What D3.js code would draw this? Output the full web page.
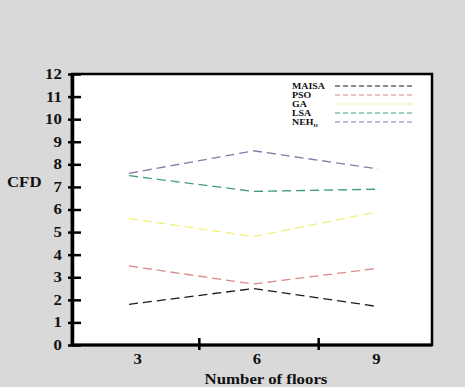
<!DOCTYPE html>
<html lang="en">
<head>
<meta charset="utf-8" />
<script src="https://d3js.org/d3.v7.min.js"></script>
<style>
  body { margin: 0; background: #d9d9d9; }
  text { font-family: "Liberation Serif", "DejaVu Serif", serif; font-weight: bold; fill: #111; }
</style>
</head>
<body>
<script>
// chart data
var floors = [3, 6, 9];
var seriesNames = ["MAISA", "PSO", "GA", "LSA", "NEH"];
var maisa = [1.8, 2.5, 1.7];
var pso = [3.5, 2.7, 3.4];
var ga = [5.6, 4.8, 5.9];
var lsa = [7.5, 6.8, 6.9];
var neh = [7.6, 8.6, 7.8];
var yTicks = [0, 1, 2, 3, 4, 5, 6, 7, 8, 9, 10, 11, 12];

var colors = ["#1a1a1a", "#d98a8a", "#f2ef7a", "#3f9c80", "#8c78a6"];
var allSeries = [maisa, pso, ga, lsa, neh];

var w = 465, h = 387;
// plot box ("top" is taken on window, so plotTop)
var plotLeft = 72, plotRight = 432, plotTop = 74, plotBottom = 345;
var stretch = "scale(1.2,1)"; // the source text looks horizontally widened

var svg = d3.select("body").append("svg")
    .attr("width", w)
    .attr("height", h);

// plot area
svg.append("rect")
    .attr("x", plotLeft).attr("y", plotTop)
    .attr("width", plotRight - plotLeft).attr("height", plotBottom - plotTop)
    .attr("fill", "#fff")
    .attr("stroke", "#000")
    .attr("stroke-width", 2.5);

var x = d3.scalePoint().domain(floors).range([129, 378]);
var xBand = d3.scaleBand().domain(floors).range([80, 438]);
var y = d3.scaleLinear().domain([0, 12]).range([plotBottom, plotTop]);

// lines
var line = d3.line()
    .x(function(d, i) { return x(floors[i]); })
    .y(function(d) { return y(d); });

svg.selectAll("path.series")
    .data(allSeries)
    .enter()
    .append("path")
    .attr("class", "series")
    .attr("d", line)
    .attr("fill", "none")
    .attr("stroke", function(d, i) { return colors[i]; })
    .attr("stroke-width", 1.3)
    .attr("stroke-dasharray", "9,5");

// y axis
var yAxis = svg.append("g")
    .attr("transform", "translate(" + plotLeft + ",0)")
    .call(d3.axisLeft(y).tickValues(yTicks).tickSize(5).tickSizeOuter(0).tickPadding(8));
yAxis.select(".domain").attr("stroke", "#000").attr("stroke-width", 3.5);
yAxis.selectAll(".tick line").attr("stroke", "#000").attr("stroke-width", 2.5)
    .attr("x1", 9).attr("x2", -4);
yAxis.selectAll(".tick text").style("font-size", "14px").attr("x", -8.5)
    .attr("transform", stretch)
    .style("font-family", "Liberation Serif").style("font-weight", "bold");

// x axis, ticks sit between the categories
var xAxis = svg.append("g")
    .attr("transform", "translate(0," + plotBottom + ")");
xAxis.append("line")
    .attr("x1", plotLeft).attr("x2", plotRight)
    .attr("stroke", "#000").attr("stroke-width", 3);
xAxis.selectAll("line.tk")
    .data(floors.slice(1))
    .enter()
    .append("line")
    .attr("class", "tk")
    .attr("x1", function(d) { return xBand(d); })
    .attr("x2", function(d) { return xBand(d); })
    .attr("y1", -7).attr("y2", 5)
    .attr("stroke", "#000").attr("stroke-width", 2.5);
xAxis.selectAll("text")
    .data(floors)
    .enter()
    .append("text")
    .attr("transform", function(d) {
        return "translate(" + (xBand(d) + xBand.bandwidth() / 2 - 2) + ",19) " + stretch;
    })
    .style("text-anchor", "middle")
    .style("font-size", "14px")
    .text(function(d) { return d; });

// axis titles
svg.append("text")
    .attr("transform", "translate(266,384) " + stretch)
    .style("text-anchor", "middle")
    .style("font-size", "14px")
    .text("Number of floors");
svg.append("text")
    .attr("transform", "translate(7,187) " + stretch)
    .style("font-size", "14px")
    .text("CFD");

// legend
var legend = svg.append("g");
var rows = legend.selectAll("g")
    .data(seriesNames)
    .enter()
    .append("g")
    .attr("transform", function(d, i) { return "translate(292," + (89 + i * 9) + ")"; });
rows.append("text")
    .attr("transform", "scale(1.1,1)")
    .style("font-size", "9px")
    .each(function(d) {
        var t = d3.select(this);
        if (d === "NEH") {
            t.text("NEH");
            t.append("tspan").attr("dy", 2).style("font-size", "5px").text("H");
        } else {
            t.text(d);
        }
    });
rows.append("line")
    .attr("x1", 335 - 292).attr("x2", 412 - 292)
    .attr("y1", -3).attr("y2", -3)
    .attr("stroke", function(d, i) { return colors[i]; })
    .attr("stroke-width", 1.2)
    .attr("stroke-dasharray", "5,3");
</script>
</body>
</html>
